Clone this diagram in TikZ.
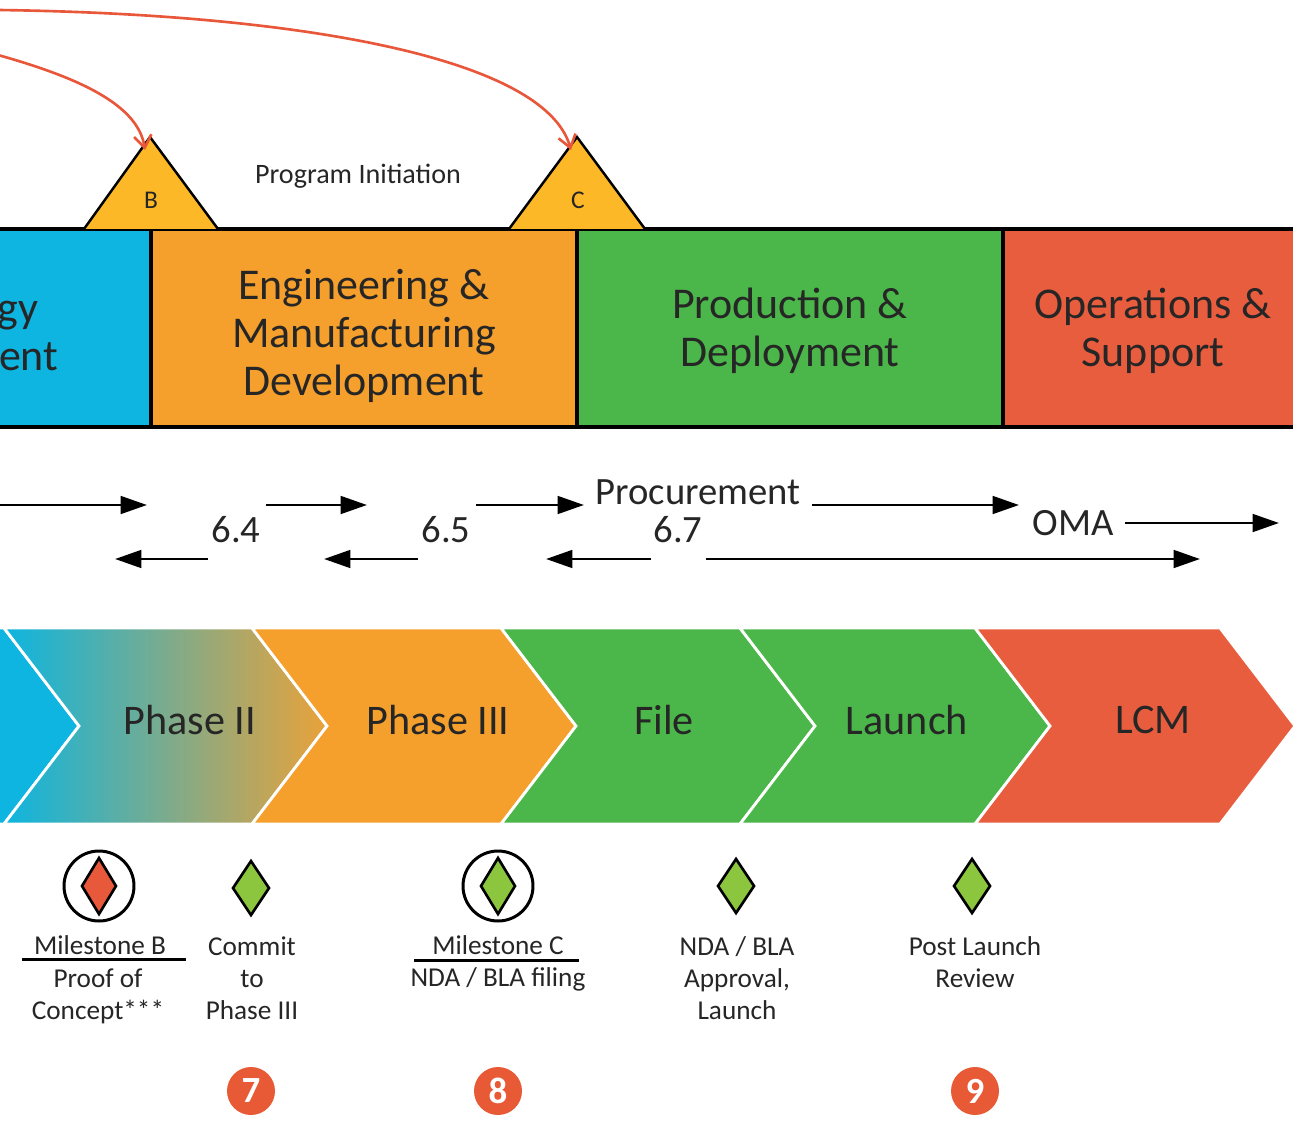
\documentclass[tikz,border=0pt]{standalone}
\usepackage{fontspec}
\setmainfont{Carlito}
\usetikzlibrary{arrows.meta}
\definecolor{cyanband}{HTML}{0DB5E0}
\definecolor{orangeband}{HTML}{F5A02C}
\definecolor{greenband}{HTML}{4BB649}
\definecolor{redband}{HTML}{E95D3F}
\definecolor{triyellow}{HTML}{FCB827}
\definecolor{diagreen}{HTML}{8CC63E}
\definecolor{diared}{HTML}{E8583A}
\definecolor{numred}{HTML}{E85A35}
\definecolor{arrred}{HTML}{E8573A}
\definecolor{tanorange}{HTML}{E9A23A}
\definecolor{txt}{HTML}{262626}
\tikzset{
  bandbox/.style={draw=black, line width=1.8pt, minimum height=3.96cm, inner sep=0pt},
  bandtext/.style={align=center, text=txt, inner sep=0pt, font=\fontsize{25}{27.2}\selectfont},
  chev/.style={draw=white, line width=1.6pt, line join=miter},
  chevlabel/.style={text=txt, font=\fontsize{24}{28}\selectfont, inner sep=0pt},
  midlabel/.style={text=txt, font=\fontsize{22}{26}\selectfont, inner sep=2pt},
  fwd/.style={line width=1.7pt, -{Triangle[length=15pt,width=10pt]}},
  redarrow/.style={draw=arrred, line width=1.5pt, -{Straight Barb[length=7pt,width=10pt,line width=1.5pt]}},
  tri/.style={draw=black, line width=1.4pt, fill=triyellow, line join=miter},
  ms/.style={text=txt, font=\fontsize{15.5}{18.1}\selectfont, align=center, inner sep=0pt},
  diamondpath/.style={draw=black, line width=1.5pt, line join=miter},
  ring/.style={circle, draw=black, line width=1.7pt, minimum size=1.4cm, inner sep=0pt},
  numcirc/.style={circle, fill=numred, text=white, minimum size=0.96cm, inner sep=0pt,
    font=\fontsize{21}{24}\selectfont\bfseries},
  uline/.style={line width=1.7pt, draw=black}
}
\begin{document}
\begin{tikzpicture}[x=0.02cm,y=-0.02cm]
\useasboundingbox (0,0) rectangle (1293,1128);
\fill[white] (0,0) rectangle (1293,1128);
\begin{scope}
\clip (0,0) rectangle (1293,1128);

% ---------- top band ----------
\node[bandbox, fill=cyanband, minimum width=8.52cm] (td) at (-62,328) {};
\node[bandbox, fill=orangeband, minimum width=8.52cm] (emd) at (364,328) {};
\node[bandbox, fill=greenband, minimum width=8.52cm] (pd) at (790,328) {};
\node[bandbox, fill=redband, minimum width=6cm] (os) at (1153,328) {};
\node[bandtext] (tdtext) at (-62,335) {Technology\\Development};
\node[bandtext] (emdtext) at (364,336) {Engineering \&\\Manufacturing\\Development};
\node[bandtext] (pdtext) at (790,331) {Production \&\\Deployment};
\node[bandtext] (ostext) at (1153,331) {Operations \&\\Support};

% ---------- triangles B and C ----------
\draw[tri] (84,229) -- (150,137) -- (218,229);
\draw[tri] (509,229) -- (577,137) -- (645,229);
\coordinate (Btop) at (145,150);
\coordinate (Ctop) at (571,150);
\node[text=txt, font=\fontsize{14.5}{16}\selectfont] (Blab) at (151,200) {B};
\node[text=txt, font=\fontsize{14.5}{16}\selectfont] (Clab) at (578,200) {C};
\node[text=txt, font=\fontsize{16}{19}\selectfont] (pinit) at (358,176) {Program Initiation};

% ---------- red curved arrows ----------
\coordinate (r1s) at (-2,55);
\coordinate (r2s) at (-2,10);
\draw[redarrow] (r1s) .. controls (80,78) and (138,105) .. (Btop);
\draw[redarrow] (r2s) .. controls (300,14) and (545,58) .. (Ctop);

% ---------- middle labels ----------
\node[midlabel] (proc) at (698,492) {Procurement};
\node[midlabel] (l64) at (236,530) {6.4};
\node[midlabel] (l65) at (446,530) {6.5};
\node[midlabel] (l67) at (678,530) {6.7};
\node[midlabel] (oma) at (1073,523) {OMA};

% ---------- middle arrows ----------
\coordinate (a1s) at (-5,505);   \coordinate (a1e) at (147,505);
\coordinate (a2s) at (266,505);  \coordinate (a2e) at (367,505);
\coordinate (a3s) at (476,505);  \coordinate (a3e) at (584,505);
\coordinate (a4s) at (812,505);  \coordinate (a4e) at (1019,505);
\coordinate (a5s) at (1125,523); \coordinate (a5e) at (1279,523);
\coordinate (b1s) at (208,559);  \coordinate (b1e) at (115,559);
\coordinate (b2s) at (418,559);  \coordinate (b2e) at (324,559);
\coordinate (b3s) at (651,559);  \coordinate (b3e) at (546,559);
\coordinate (b4s) at (706,559);  \coordinate (b4e) at (1200,559);

\draw[fwd] (a1s) -- (a1e);
\draw[fwd] (a2s) -- (a2e);
\draw[fwd] (a3s) -- (a3e);
\draw[fwd] (a4s) -- (a4e);
\draw[fwd] (a5s) -- (a5e);
\draw[fwd] (b1s) -- (b1e);
\draw[fwd] (b2s) -- (b2e);
\draw[fwd] (b3s) -- (b3e);
\draw[fwd] (b4s) -- (b4e);

% ---------- chevrons ----------
\path[chev, fill=cyanband] (-300,628) -- (4,628) -- (79,726) -- (4,824) -- (-300,824) -- cycle;
\path[chev, left color=cyanband, right color=tanorange] (4,628) -- (252,628) -- (327,726) -- (252,824) -- (4,824) -- (79,726) -- cycle;
\path[chev, fill=orangeband] (252,628) -- (501,628) -- (576,726) -- (501,824) -- (252,824) -- (327,726) -- cycle;
\path[chev, fill=greenband] (501,628) -- (740,628) -- (815,726) -- (740,824) -- (501,824) -- (576,726) -- cycle;
\path[chev, fill=greenband] (740,628) -- (975,628) -- (1050,726) -- (975,824) -- (740,824) -- (815,726) -- cycle;
\path[chev, fill=redband] (975,628) -- (1220,628) -- (1295,726) -- (1220,824) -- (975,824) -- (1050,726) -- cycle;

\node[chevlabel] (ph2) at (190,720) {Phase II};
\node[chevlabel] (ph3) at (438,720) {Phase III};
\node[chevlabel] (file) at (664,720) {File};
\node[chevlabel] (launch) at (907,720) {Launch};
\node[chevlabel] (lcm) at (1153,720) {LCM};

% ---------- milestone icons ----------
\node[ring] (mB) at (99,886) {};
\draw[diamondpath, fill=diared] (99,858) -- (116,886) -- (99,914) -- (82,886) -- cycle;
\draw[diamondpath, fill=diagreen] (251,861) -- (269,888) -- (251,915) -- (233,888) -- cycle;
\node[ring] (mC) at (498,886) {};
\draw[diamondpath, fill=diagreen] (498,858) -- (515,886) -- (498,914) -- (481,886) -- cycle;
\draw[diamondpath, fill=diagreen] (736,859) -- (754,886) -- (736,913) -- (718,886) -- cycle;
\draw[diamondpath, fill=diagreen] (972,859) -- (990,886) -- (972,913) -- (954,886) -- cycle;

% ---------- milestone texts ----------
\node[ms] (tB1) at (100,945) {Milestone B};
\node[ms] (tB2) at (98,996) {Proof of\\Concept***};
\coordinate (uB1) at (22,959); \coordinate (uB2) at (186,959);
\draw[uline] (uB1) -- (uB2);
\node[ms] (tCommit) at (252,978) {Commit\\to\\Phase III};
\node[ms] (tC1) at (498,945) {Milestone C};
\node[ms] (tC2) at (498,979) {NDA / BLA filing};
\coordinate (uC1) at (414,960); \coordinate (uC2) at (579,960);
\draw[uline] (uC1) -- (uC2);
\node[ms] (tNDA) at (737,978) {NDA / BLA\\Approval,\\Launch};
\node[ms] (tPLR) at (975,962) {Post Launch\\Review};

% ---------- numbers ----------
\node[numcirc] (n7) at (251,1091) {7};
\node[numcirc] (n8) at (498,1091) {8};
\node[numcirc] (n9) at (975,1091) {9};
\end{scope}
\end{tikzpicture}
\end{document}
